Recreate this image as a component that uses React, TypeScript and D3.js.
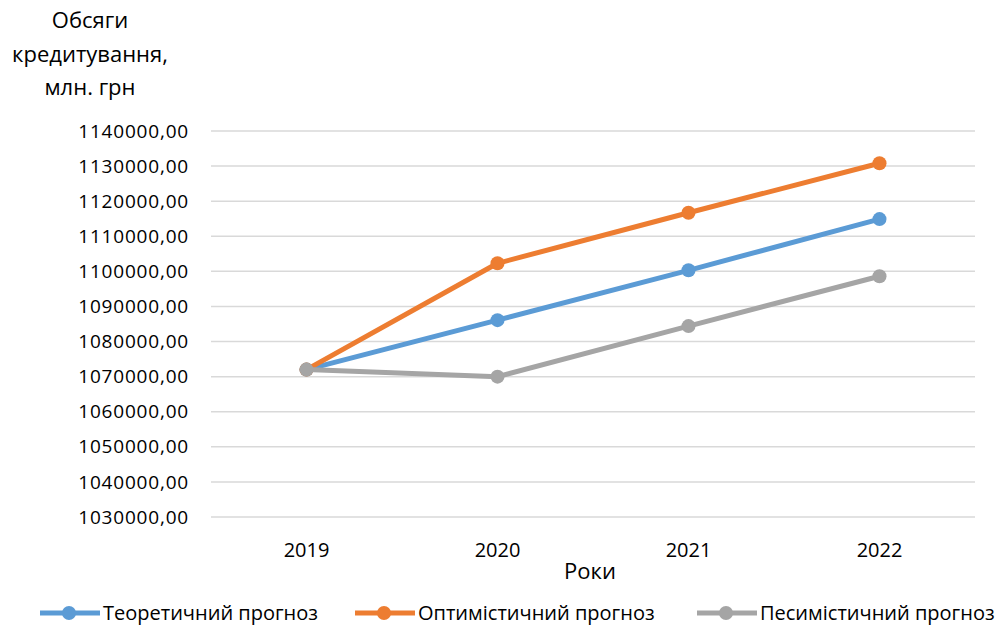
import React from 'react';
import * as d3 from 'd3';

const years = ['2019', '2020', '2021', '2022'];
const theoretical = [1072000, 1086100, 1100300, 1114900];
const optimistic = [1072000, 1102300, 1116700, 1130800];
const pessimistic = [1072000, 1070000, 1084400, 1098600];
const yTicks = [1030000, 1040000, 1050000, 1060000, 1070000, 1080000, 1090000, 1100000, 1110000, 1120000, 1130000, 1140000];
const titleLines = ['Обсяги', 'кредитування,', 'млн. грн'];

const seriesList = [
  { name: 'Теоретичний прогноз', values: theoretical, color: '#5B9BD5' },
  { name: 'Оптимістичний прогноз', values: optimistic, color: '#ED7D31' },
  { name: 'Песимістичний прогноз', values: pessimistic, color: '#A5A5A5' },
];

const width = 1004;
const height = 630;
const font = '"Open Sans", sans-serif';

export default function App() {
  const left = 211;
  const right = 975;
  const top = 131;
  const bottom = 517;

  const x = d3.scalePoint<string>().domain(years).range([left, right]).padding(0.5);
  const y = d3.scaleLinear().domain([1030000, 1140000]).range([bottom, top]);
  const fmt = (v: number) => d3.format('.2f')(v).replace('.', ',');

  const line = d3.line<number>()
    .x((_, i) => x(years[i])!)
    .y(d => y(d));

  // legend positions
  const legendX = [40, 355, 697];

  return (
    <div style={{ position: 'absolute', left: 0, top: 0 }}>
      <svg width={width} height={height} style={{ display: 'block', background: '#fff' }}>
        {yTicks.map(t => (
          <g key={t}>
            <line x1={left} x2={right} y1={y(t)} y2={y(t)} stroke="#d9d9d9" strokeWidth={1.5} />
            <text x={189} y={y(t)} dy="0.35em" textAnchor="end" fontFamily={font} fontSize={19} letterSpacing={0.8} fill="#000">
              {fmt(t)}
            </text>
          </g>
        ))}
        {titleLines.map((t, i) => (
          <text key={t} x={90} y={28 + i * 33.5} textAnchor="middle" fontFamily={font} fontSize={22} fill="#000">
            {t}
          </text>
        ))}
        {years.map(yr => (
          <text key={yr} x={x(yr)} y={557} textAnchor="middle" fontFamily={font} fontSize={20} fill="#000">
            {yr}
          </text>
        ))}
        <text x={590} y={579} textAnchor="middle" fontFamily={font} fontSize={22} fill="#000">Роки</text>

        {seriesList.map(s => (
          <g key={s.name}>
            <path d={line(s.values) || ''} fill="none" stroke={s.color} strokeWidth={5} strokeLinejoin="round" strokeLinecap="round" />
            {s.values.map((v, i) => (
              <circle key={i} cx={x(years[i])} cy={y(v)} r={7} fill={s.color} />
            ))}
          </g>
        ))}

        {seriesList.map((s, i) => (
          <g key={s.name} transform={`translate(${legendX[i]},613)`}>
            <line x1={0} x2={60} y1={0} y2={0} stroke={s.color} strokeWidth={5} />
            <circle cx={29} cy={0} r={7} fill={s.color} />
            <text x={63} y={0} dy="0.35em" fontFamily={font} fontSize={20} fill="#000">{s.name}</text>
          </g>
        ))}
      </svg>
    </div>
  );
}
